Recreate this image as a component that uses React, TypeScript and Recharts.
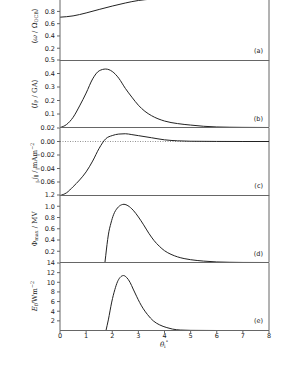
import React from "react";
import { LineChart, Line, XAxis, YAxis, ReferenceLine } from "recharts";

// x positions (theta_i in degrees) and values
const thetaA = [0, 0.5, 1.0, 1.5, 2.0, 2.5, 3.0, 3.5, 4.0, 5.0, 6.0, 7.0, 8.0];
const omegaA = [0.706, 0.727, 0.775, 0.832, 0.887, 0.937, 0.978, 1.0, 1.008, 1.01, 1.01, 1.01, 1.01];

const thetaB = [0, 0.25, 0.5, 0.75, 1.0, 1.25, 1.5, 1.75, 2.0, 2.25, 2.5, 2.75, 3.0, 3.25, 3.5, 4.0, 4.5, 5.0, 5.5, 6.0, 7.0, 8.0];
const currentB = [0, 0.022, 0.075, 0.16, 0.255, 0.36, 0.42, 0.433, 0.415, 0.365, 0.29, 0.225, 0.165, 0.12, 0.088, 0.048, 0.029, 0.018, 0.009, 0.004, 0.001, 0];

const thetaC = [0, 0.25, 0.5, 0.75, 1.0, 1.25, 1.5, 1.75, 2.0, 2.25, 2.5, 2.75, 3.0, 3.5, 4.0, 4.5, 5.0, 6.0, 7.0, 8.0];
const jparC = [-0.08, -0.076, -0.067, -0.057, -0.045, -0.029, -0.01, 0.004, 0.0088, 0.011, 0.0115, 0.0102, 0.0087, 0.0056, 0.0025, 0.001, 0.0004, 0.0001, 0, 0];

const thetaD = [1.72, 1.75, 1.8, 1.85, 1.95, 2.05, 2.2, 2.35, 2.45, 2.6, 2.8, 3.0, 3.2, 3.4, 3.6, 3.8, 4.0, 4.25, 4.5, 4.75, 5.0, 5.5, 6.0, 6.5, 7.0, 8.0];
const phiD = [0, 0.12, 0.32, 0.49, 0.7, 0.85, 0.97, 1.025, 1.035, 1.01, 0.93, 0.81, 0.67, 0.52, 0.39, 0.29, 0.21, 0.145, 0.1, 0.07, 0.05, 0.025, 0.01, 0.004, 0.001, 0];

const thetaE = [1.76, 1.85, 1.98, 2.1, 2.2, 2.3, 2.43, 2.55, 2.68, 2.8, 2.94, 3.05, 3.19, 3.35, 3.57, 3.8, 4.09, 4.3, 4.6, 5.0, 6.0, 8.0];
const fluxE = [0, 2.2, 5.9, 8.5, 10.1, 11.0, 11.4, 11.0, 10.0, 8.6, 7.0, 5.8, 4.5, 3.3, 2.0, 1.2, 0.6, 0.3, 0.1, 0.03, 0, 0];

const xTicks = [0, 1, 2, 3, 4, 5, 6, 7, 8];
const ticksA = [0.2, 0.4, 0.6, 0.8, 1.0];
const ticksB = [0.1, 0.2, 0.3, 0.4, 0.5];
const ticksC = [-0.06, -0.04, -0.02, 0.0, 0.02];
const ticksD = [0.2, 0.4, 0.6, 0.8, 1.0, 1.2];
const ticksE = [2, 4, 6, 8, 10, 12, 14];

const PANEL_H = 67.5;
const TOP0 = -7.5;
const PAD = 5; // room above each panel so its top tick label is not clipped
const AXIS = "#666";
const INK = "#222";

const zip = (xs: number[], ys: number[]) => xs.map((x, i) => ({ x, y: ys[i] }));

const fix = (d: number, hideAbove = Infinity) => (v: number) =>
  v > hideAbove ? "" : v < 0 ? "\u2212" + Math.abs(v).toFixed(d) : v.toFixed(d);

type PanelProps = {
  index: number;
  data: { x: number; y: number }[];
  domain: [number, number];
  ticks: number[];
  fmt: (v: number) => string;
  tag: string;
  label: React.ReactNode;
  last?: boolean;
  zeroLine?: boolean;
};

const tickFont = { fill: INK, fontSize: 6.5, fontFamily: "DejaVu Sans" };

function Panel({ index, data, domain, ticks, fmt, tag, label, last, zeroLine }: PanelProps) {
  const top = TOP0 + index * PANEL_H;
  const xh = last ? 14 : 3;
  return (
    <>
      <div style={{ position: "absolute", left: 0, top: top - PAD }}>
        <LineChart
          width={299}
          height={PANEL_H + PAD + xh}
          data={data}
          margin={{ top: PAD, right: 30, bottom: 0, left: 0 }}
        >
          <XAxis
            dataKey="x"
            type="number"
            domain={[0, 8]}
            ticks={xTicks}
            interval={0}
            height={xh}
            stroke={AXIS}
            tickSize={last ? 3 : 2}
            tickMargin={0}
            tick={last ? tickFont : false}
          />
          <YAxis
            type="number"
            domain={domain}
            ticks={ticks}
            interval={0}
            width={60}
            stroke={AXIS}
            tickSize={3}
            tickMargin={2}
            tick={tickFont}
            tickFormatter={fmt}
          />
          <ReferenceLine x={8} stroke={AXIS} />
          {zeroLine && <ReferenceLine y={0} stroke="#777" strokeWidth={0.8} strokeDasharray="1 1.5" />}
          <Line
            type="monotone"
            dataKey="y"
            stroke={INK}
            strokeWidth={1}
            dot={false}
            activeDot={false}
            isAnimationActive={false}
          />
        </LineChart>
      </div>
      <div
        style={{
          position: "absolute",
          left: 35,
          top: top + PANEL_H / 2,
          transform: "translate(-50%, -50%) rotate(-90deg)",
          whiteSpace: "nowrap",
          fontFamily: "DejaVu Serif",
          fontSize: 7,
          color: INK,
          lineHeight: 1,
        }}
      >
        {label}
      </div>
      <div
        style={{
          position: "absolute",
          right: 36,
          top: top + PANEL_H - 13,
          fontFamily: "DejaVu Sans",
          fontSize: 6.5,
          color: INK,
          lineHeight: "8px",
        }}
      >
        {tag}
      </div>
    </>
  );
}

const sub = { fontSize: "0.7em", verticalAlign: "-0.3em", lineHeight: 0 } as const;
const sup = { fontSize: "0.7em", verticalAlign: "0.5em", lineHeight: 0 } as const;

export default function App() {
  return (
    <div style={{ position: "absolute", left: 0, top: 0, width: 299, height: 373, overflow: "hidden", background: "#fff" }}>
      <Panel
        index={0}
        data={zip(thetaA, omegaA)}
        domain={[0, 1.1]}
        ticks={ticksA}
        fmt={fix(1, 0.9)}
        tag="(a)"
        label={<>⟨<i>ω</i> / Ω<span style={sub}>OCB</span>⟩</>}
      />
      <Panel
        index={1}
        data={zip(thetaB, currentB)}
        domain={[0, 0.5]}
        ticks={ticksB}
        fmt={fix(1)}
        tag="(b)"
        label={<>⟨<i>I</i><span style={sub}>P</span> / GA⟩</>}
      />
      <Panel
        index={2}
        data={zip(thetaC, jparC)}
        domain={[-0.08, 0.02]}
        ticks={ticksC}
        fmt={fix(2)}
        tag="(c)"
        zeroLine
        label={<><i>j</i><span style={sub}>∥</span> / mAm<span style={sup}>−2</span></>}
      />
      <Panel
        index={3}
        data={zip(thetaD, phiD)}
        domain={[0, 1.2]}
        ticks={ticksD}
        fmt={fix(1)}
        tag="(d)"
        label={<>Φ<span style={sub}>max</span> / MV</>}
      />
      <Panel
        index={4}
        data={zip(thetaE, fluxE)}
        domain={[0, 14]}
        ticks={ticksE}
        fmt={fix(0)}
        tag="(e)"
        last
        label={<><i>E</i><span style={sub}>f</span>/Wm<span style={sup}>−2</span></>}
      />
      <div
        style={{
          position: "absolute",
          left: 164,
          top: 345,
          transform: "translate(-50%, -50%)",
          fontFamily: "DejaVu Serif",
          fontSize: 7,
          color: INK,
          whiteSpace: "nowrap",
          lineHeight: 1,
        }}
      >
        <i>θ</i>
        <span style={sub}>i</span>
        <span style={sup}>°</span>
      </div>
    </div>
  );
}
